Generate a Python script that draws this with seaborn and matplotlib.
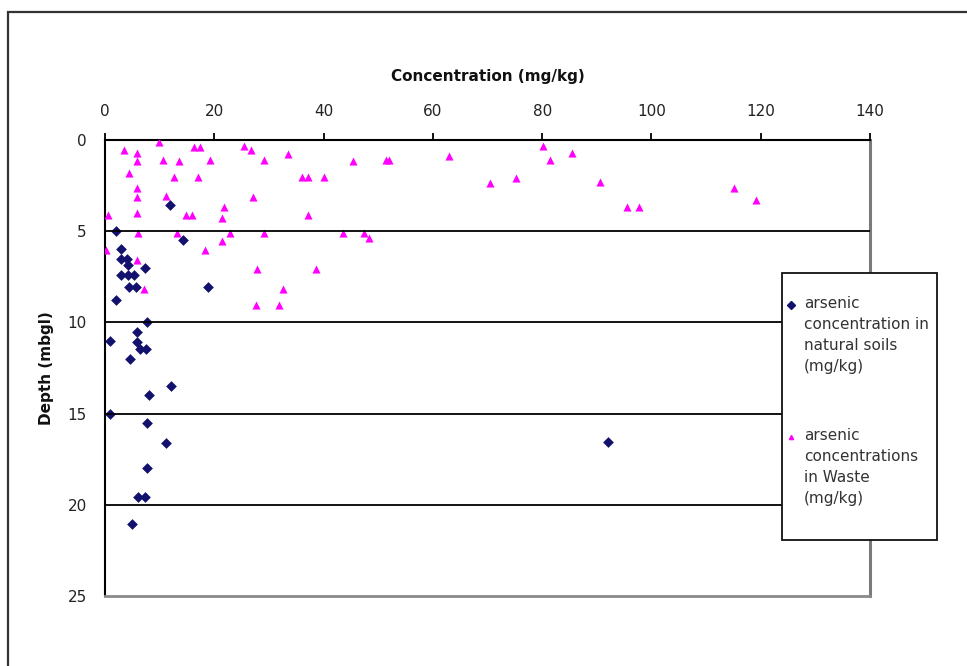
import matplotlib
matplotlib.use("Agg")
import matplotlib.pyplot as plt
import seaborn as sns
import pandas as pd
from matplotlib.patches import Rectangle
from matplotlib.lines import Line2D

# ---- data ----
soil_conc = [11.9, 2.0, 14.2, 2.9, 2.9, 4.0, 4.3, 7.3, 2.9, 4.3, 5.3, 4.45, 5.7, 18.9,
             2.1, 7.75, 5.9, 1.0, 5.8, 6.4, 7.5, 4.6, 12.1, 8.05, 1.0, 7.75, 11.2,
             92.1, 7.75, 6.0, 7.3, 4.9]
soil_depth = [3.55, 5.0, 5.5, 5.95, 6.5, 6.5, 6.85, 7.0, 7.4, 7.4, 7.4, 8.05, 8.05, 8.05,
              8.75, 10.0, 10.55, 11.0, 11.05, 11.45, 11.45, 12.0, 13.5, 14.0, 15.0, 15.5, 16.6,
              16.55, 18.0, 19.55, 19.55, 21.05]

waste_conc = [9.8, 3.4, 5.9, 5.9, 10.6, 13.5, 16.3, 17.4, 19.3, 25.4, 26.7, 29.1, 33.4,
              45.3, 51.4, 52.0, 4.4, 12.6, 17.0, 36.1, 37.2, 40.0, 5.9, 5.9, 11.1, 27.0,
              21.8, 0.6, 5.9, 14.9, 16.0, 21.4, 37.2, 6.1, 13.1, 22.8, 29.1, 43.6, 47.4,
              48.4, 21.5, 18.3, 0.2, 5.9, 7.1, 27.9, 38.7, 32.6, 27.6, 31.9, 63.0, 70.5,
              75.2, 80.1, 81.4, 85.5, 90.6, 95.5, 97.8, 115.2, 119.1]
waste_depth = [0.1, 0.55, 0.7, 1.15, 1.1, 1.15, 0.4, 0.4, 1.1, 0.35, 0.55, 1.1, 0.75,
               1.15, 1.1, 1.1, 1.8, 2.05, 2.05, 2.05, 2.05, 2.05, 2.65, 3.1, 3.05, 3.1,
               3.65, 4.1, 4.0, 4.1, 4.1, 4.25, 4.1, 5.1, 5.1, 5.1, 5.1, 5.1, 5.1,
               5.35, 5.55, 6.05, 6.05, 6.6, 8.15, 7.05, 7.05, 8.15, 9.05, 9.05, 0.85, 2.35,
               2.1, 0.35, 1.1, 0.7, 2.3, 3.7, 3.65, 2.65, 3.3]

series_names = ["arsenic concentration in natural soils (mg/kg)",
                "arsenic concentrations in Waste (mg/kg)"]
legend_labels = ["arsenic\nconcentration in\nnatural soils\n(mg/kg)",
                 "arsenic\nconcentrations\nin Waste\n(mg/kg)"]
x_ticks = [0, 20, 40, 60, 80, 100, 120, 140]
y_ticks = [0, 5, 10, 15, 20, 25]

df = pd.DataFrame({
    "conc": soil_conc + waste_conc,
    "depth": soil_depth + waste_depth,
    "series": [series_names[0]] * len(soil_conc) + [series_names[1]] * len(waste_conc),
})

# ---- style ----
sns.set_style("white")
plt.rcParams["font.family"] = ["DejaVu Sans"]

W, H = 967, 666
fig = plt.figure(figsize=(W / 100, H / 100), dpi=100)
ax = fig.add_axes([105 / W, 1 - 596 / H, (870 - 105) / W, (596 - 140) / H])

soil_col = "#12126e"
waste_col = "#ff00ff"

sns.scatterplot(data=df[df.series == series_names[1]], x="conc", y="depth",
                color=waste_col, marker="^", s=34, linewidth=0, ax=ax, zorder=3,
                legend=False)
sns.scatterplot(data=df[df.series == series_names[0]], x="conc", y="depth",
                color=soil_col, marker="D", s=30, linewidth=0, ax=ax, zorder=4,
                legend=False)

ax.set_xlim(0, 140)
ax.set_ylim(25, 0)
ax.set_xticks(x_ticks)
ax.set_yticks(y_ticks)
ax.xaxis.tick_top()
ax.xaxis.set_label_position("top")
ax.tick_params(axis="x", which="major", direction="out", length=5, width=1.3,
               color="black", labelsize=11, pad=10, labelcolor="#222222", top=True, bottom=False)
ax.tick_params(axis="y", which="major", direction="out", length=5, width=1.3,
               color="black", labelsize=11, pad=8, labelcolor="#222222")

ax.set_xlabel("Concentration (mg/kg)", fontsize=11, fontweight="bold", labelpad=16.5,
              color="#111111")
ax.set_ylabel("Depth (mbgl)", fontsize=11, fontweight="bold", labelpad=10,
              color="#111111")

for yv in [5, 10, 15, 20]:
    ax.axhline(yv, color="black", linewidth=1.3, zorder=5)

ax.spines["left"].set_color("black")
ax.spines["left"].set_linewidth(1.5)
ax.spines["top"].set_color("black")
ax.spines["top"].set_linewidth(1.5)
ax.spines["right"].set_color("#7a7a7a")
ax.spines["right"].set_linewidth(2.2)
ax.spines["bottom"].set_color("#8a8a8a")
ax.spines["bottom"].set_linewidth(2.0)

# outer chart border (left and top visible)
fig.add_artist(Rectangle((8 / W, -0.05), 1.2, 1 - 12 / H + 0.05,
                         transform=fig.transFigure, fill=False,
                         edgecolor="#333333", linewidth=1.6, zorder=0))

# legend box
lx0, ly0, lx1, ly1 = 782, 273, 937, 540
box = Rectangle((lx0 / W, 1 - ly1 / H), (lx1 - lx0) / W, (ly1 - ly0) / H,
                transform=fig.transFigure, facecolor="white", edgecolor="#111111",
                linewidth=1.3, zorder=10)
fig.add_artist(box)

entries = [(296, legend_labels[0], "D", soil_col, 4.5),
           (428, legend_labels[1], "^", waste_col, 3.0)]
for ytop, lab, mk, col, ms in entries:
    t = fig.text(804 / W, 1 - ytop / H, lab, ha="left", va="top", fontsize=11,
                 color="#333333", linespacing=1.5, zorder=11)
    t.set_clip_path(box)
    fig.add_artist(Line2D([791 / W], [1 - (ytop + 9) / H], marker=mk, color=col,
                          markersize=ms, linestyle="none", transform=fig.transFigure,
                          zorder=11))

fig.savefig("out.png", dpi=100)
